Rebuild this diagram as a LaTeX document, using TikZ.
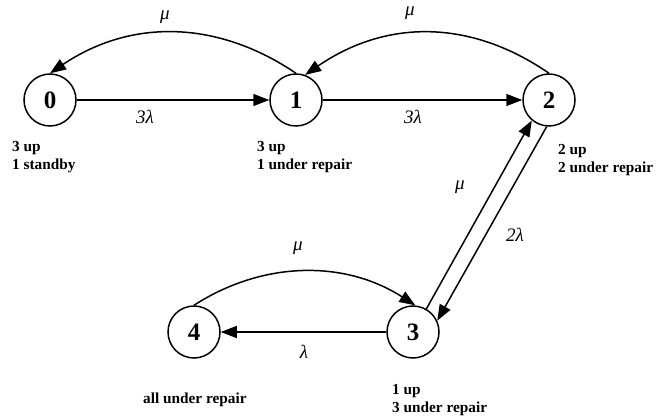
\documentclass[tikz,border=0pt]{standalone}
\usepackage{fontspec}
\setmainfont{Liberation Serif}
\usetikzlibrary{arrows.meta}
\begin{document}
\begin{tikzpicture}[x=1pt,y=-1pt,
  state/.style={circle,draw,line width=1.5pt,minimum size=52pt,inner sep=0pt,font=\fontsize{25}{30}\selectfont\bfseries},
  edge/.style={line width=1.5pt,-{Triangle[length=16pt,width=12pt]}},
  rate/.style={font=\fontsize{19}{22}\selectfont\itshape,inner sep=0pt},
  desc/.style={font=\fontsize{15.3}{18}\selectfont\bfseries,align=left,anchor=base west,inner sep=0pt}]
\useasboundingbox (0,0) rectangle (656,419);
\node[state] (n0) at (50,100) {0};
\node[state] (n1) at (296,100) {1};
\node[state] (n2) at (549,100) {2};
\node[state] (n3) at (413,332) {3};
\node[state] (n4) at (194,332) {4};

\draw[edge] (n0) -- (n1);
\draw[edge] (n1) -- (n2);
\draw[edge] (n3) -- (n4);
\draw[edge] (n1.north) .. controls +(-80,-54) and +(80,-54) .. (n0.north);
\draw[edge] (n2.north) .. controls +(-80,-55) and +(80,-55) .. (n1.70);
\draw[edge] (n4.north) .. controls +(70,-45) and +(-70,-45) .. (n3.85);
\draw[edge] (n3.60) -- (n2.230);
\draw[edge] (n2.265) -- (n3.25);

\node[rate] (r01) at (145,117) {3λ};
\node[rate] (r10) at (165,17) {μ};
\node[rate] (r12) at (413,117) {3λ};
\node[rate] (r21) at (410,13) {μ};
\node[rate] (r32) at (460,187) {μ};
\node[rate] (r23) at (515,235) {2λ};
\node[rate] (r43) at (298,248) {μ};
\node[rate] (r34) at (304,352) {λ};

\node[desc] (d0) at (12,170) {3 up\\1 standby};
\node[desc] (d1) at (257,170) {3 up\\1 under repair};
\node[desc] (d2) at (558,173) {2 up\\2 under repair};
\node[desc] (d4) at (143,403) {all under repair};
\node[desc] (d3) at (392,413) {1 up\\3 under repair};
\end{tikzpicture}
\end{document}
